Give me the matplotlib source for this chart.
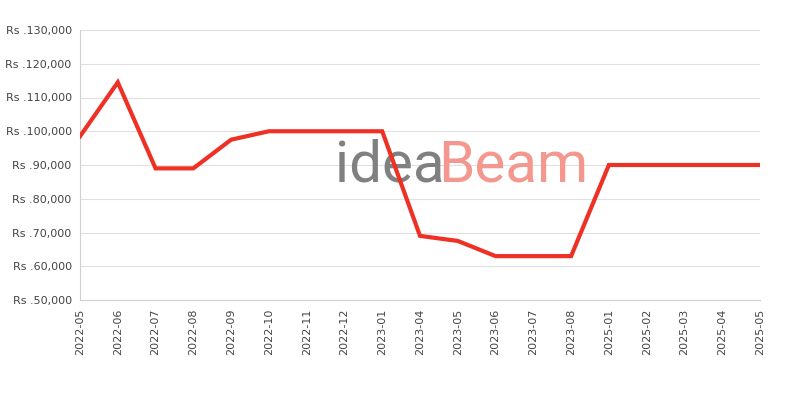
import matplotlib.pyplot as plt
from matplotlib.ticker import FuncFormatter

# price history
months = ['2022-05', '2022-06', '2022-07', '2022-08', '2022-09', '2022-10',
          '2022-11', '2022-12', '2023-01', '2023-04', '2023-05', '2023-06',
          '2023-07', '2023-08', '2025-01', '2025-02', '2025-03', '2025-04',
          '2025-05']
prices = [98500, 114500, 89000, 89000, 97500, 100000,
          100000, 100000, 100000, 69000, 67500, 63000,
          63000, 63000, 90000, 90000, 90000, 90000,
          90000]

fig = plt.figure(figsize=(8, 4), dpi=100)
ax = fig.add_axes([0.1, 0.25, 0.85, 0.675])

x = list(range(len(months)))
ax.plot(x, prices, color='#ee3124', linewidth=3, solid_joinstyle='miter', zorder=3)

ax.set_xlim(0, len(months) - 1)
ax.set_ylim(50000, 130000)
ax.set_yticks(range(50000, 130001, 10000))
ax.yaxis.set_major_formatter(FuncFormatter(lambda v, p: f"Rs .{int(v):,}"))
ax.set_xticks(x)
ax.set_xticklabels(months, rotation=90)
ax.tick_params(axis='both', length=0, labelsize=8, colors='#444444', pad=6)
ax.grid(axis='y', color='#e0e0e0', linewidth=0.8)
ax.set_axisbelow(True)
for side in ['top', 'right']:
    ax.spines[side].set_visible(False)
for side in ['left', 'bottom']:
    ax.spines[side].set_color('#d0d0d0')

# watermark, drawn under the line
ax.text(0.419, 0.585, 'idea', color='#808080', fontsize=42, family='Roboto',
        ha='left', va='center', transform=fig.transFigure, zorder=1)
ax.text(0.548, 0.585, 'Beam', color='#f4978e', fontsize=42, family='Roboto',
        ha='left', va='center', transform=fig.transFigure, zorder=1)

fig.savefig('out.png')
